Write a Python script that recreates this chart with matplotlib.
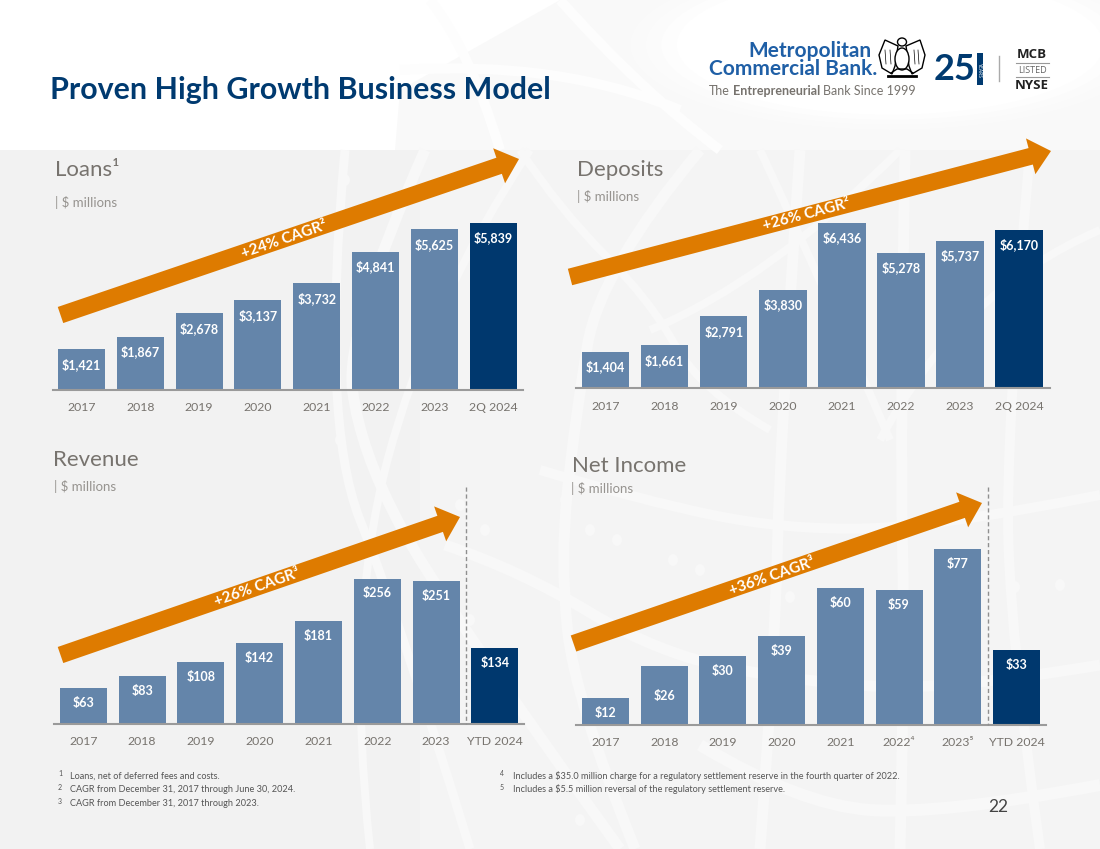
import matplotlib
matplotlib.use('Agg')
import matplotlib.pyplot as plt
import numpy as np
from matplotlib.patches import Rectangle, Ellipse, FancyArrow, PathPatch
from matplotlib.path import Path

plt.rcParams['font.family'] = ['Lato', 'Open Sans', 'DejaVu Sans']

W, H = 1100, 849

# data
years = ['2017', '2018', '2019', '2020', '2021', '2022', '2023']
loans = [1421, 1867, 2678, 3137, 3732, 4841, 5625, 5839]
deposits = [1404, 1661, 2791, 3830, 6436, 5278, 5737, 6170]
revenue = [63, 83, 108, 142, 181, 256, 251, 134]
net_income = [12, 26, 30, 39, 60, 59, 77, 33]
loans_cats = years + ['2Q 2024']
deposits_cats = years + ['2Q 2024']
revenue_cats = years + ['YTD 2024']
net_cats = years[:5] + ['2022⁴', '2023⁵', 'YTD 2024']
cagr_loans = '+24% CAGR²'
cagr_deposits = '+26% CAGR²'
cagr_revenue = '+26% CAGR³'
cagr_net = '+36% CAGR³'
notes_left = ['Loans, net of deferred fees and costs.',
              'CAGR from December 31, 2017 through June 30, 2024.',
              'CAGR from December 31, 2017 through 2023.']
notes_right = ['Includes a $35.0 million charge for a regulatory settlement reserve in the fourth quarter of 2022.',
               'Includes a $5.5 million reversal of the regulatory settlement reserve.']

BAR = '#6485AA'
DARK = '#00386E'
ORANGE = '#DE7B00'
NAVY = '#003A70'
GREY = '#77736E'
GREY2 = '#96938F'
BAND = '#F8F8F8'

fig = plt.figure(figsize=(W / 100, H / 100), dpi=100, facecolor='white')

# pixel axes for the background
bg = fig.add_axes([0, 0, 1, 1], zorder=0)
bg.set_xlim(0, W)
bg.set_ylim(H, 0)
bg.axis('off')
# overlay for arrows and text
ov = fig.add_axes([0, 0, 1, 1], zorder=5)
ov.set_xlim(0, W)
ov.set_ylim(H, 0)
ov.axis('off')
ov.patch.set_alpha(0)


def band(pts, lw=10, color=BAND, z=2):
    # smooth curve through midpoints
    pts = [np.array(p, dtype=float) for p in pts]
    verts = [pts[0]]
    codes = [Path.MOVETO]
    for i in range(1, len(pts) - 1):
        end = pts[i + 1] if i == len(pts) - 2 else (pts[i] + pts[i + 1]) / 2
        verts += [pts[i], end]
        codes += [Path.CURVE3, Path.CURVE3]
    bg.add_patch(PathPatch(Path(verts, codes), fc='none', ec=color, lw=lw * 0.72, zorder=z, capstyle='butt'))


# top area of the page, faint globe behind the logo
bg.fill([395, 1100, 1100, 560, 400], [150, 150, 0, 0, 90], fc='#F9F9F9', ec='none', zorder=1)
bg.add_patch(Rectangle((0, 150), W, H - 150, fc='#F2F2F2', ec='none', zorder=1))
bg.add_patch(Rectangle((420, 150), W - 420, H - 150, fc='#F4F4F4', ec='none', zorder=1.1))
for size, c in [(1.0, '#FAFAFA'), (0.94, '#FBFBFB'), (0.88, '#FDFDFD'), (0.82, 'white')]:
    bg.add_patch(Ellipse((890, 45), 520 * size, 170 * size, fc=c, ec='none', zorder=1.2))
band([(430, 0), (470, 50), (500, 150)], 10, color='#FDFDFD', z=1.15)
band([(560, 0), (640, 90), (720, 150)], 10, color='#FDFDFD', z=1.15)
band([(400, 70), (560, 60), (680, 110)], 10, color='#FDFDFD', z=1.15)

# globe bands
band([(345, 150), (320, 420), (400, 620), (470, 849)], 9)
band([(425, 150), (345, 330), (360, 450), (440, 600), (620, 849)], 11)
band([(530, 150), (430, 300), (345, 620), (370, 849)], 8)
band([(520, 150), (560, 210), (650, 300), (700, 390), (770, 430)], 8)
band([(540, 470), (640, 500), (785, 530), (940, 527), (1100, 495)], 10)
band([(445, 545), (520, 570), (660, 655), (810, 683), (950, 690), (1100, 665)], 11)
band([(700, 745), (800, 805), (940, 815), (1100, 785)], 12)
band([(700, 150), (600, 270), (575, 420), (560, 560), (575, 700), (635, 849)], 11)
band([(800, 150), (780, 440), (775, 650), (760, 849)], 11)
band([(905, 150), (900, 440), (905, 650), (900, 849)], 11)
band([(1030, 150), (1005, 440), (1012, 650), (1040, 849)], 10)
band([(900, 150), (770, 280), (650, 330)], 8)
band([(1100, 230), (960, 290), (880, 440)], 8)
band([(760, 150), (830, 300), (890, 440)], 8)
for cx, cy in [(345, 180), (460, 505), (485, 530), (470, 620), (565, 500), (590, 530), (617, 540),
               (673, 560), (700, 570), (730, 590), (790, 597), (1015, 587), (1060, 585), (580, 820), (340, 440)]:
    bg.add_patch(Ellipse((cx, cy), 10, 12, fc=BAND, ec='none', zorder=2.2))


def bar_chart(values, cats, first, pitch, bw, xl, xr, base, top_px, drops=None):
    # 200 px tall axes placed by the pixel position of the baseline
    ax_h = 200
    ax = fig.add_axes([xl / W, 1 - base / H, (xr - xl) / W, ax_h / H], zorder=3)
    ax.patch.set_alpha(0)
    x = np.arange(len(values))
    ax.set_xlim((xl - first) / pitch, (xr - first) / pitch)
    ax.set_ylim(0, max(values) * ax_h / top_px)
    colors = [BAR] * (len(values) - 1) + [DARK]
    ax.bar(x, values, width=bw / pitch, color=colors)
    for i, v in enumerate(values):
        drop = 15
        if drops and i in drops:
            drop = drops[i]
        ax.annotate('${:,}'.format(v), (i, v), xytext=(0, -drop * 0.72), textcoords='offset points',
                    ha='center', va='center', color='white', fontsize=9, fontweight='bold')
    ax.set_xticks(x)
    ax.set_xticklabels(cats, fontsize=8.8, color=GREY)
    ax.tick_params(axis='x', length=0, pad=9)
    ax.set_yticks([])
    for s in ['top', 'left', 'right']:
        ax.spines[s].set_visible(False)
    ax.spines['bottom'].set_color('#9A9A9A')
    ax.spines['bottom'].set_linewidth(1.5)
    return ax


bar_chart(loans, loans_cats, 81.5, 58.8, 47, 53, 523, 390, 167)
bar_chart(deposits, deposits_cats, 605.5, 59.1, 47.5, 576, 1050, 388, 165)
bar_chart(revenue, revenue_cats, 83.2, 58.8, 47, 54, 524, 723.5, 145)
bar_chart(net_income, net_cats, 605.5, 58.7, 47, 576, 1046, 725, 176, drops={1: 30})


def cagr_arrow(tail, tip, label, label_xy):
    dx, dy = tip[0] - tail[0], tip[1] - tail[1]
    ov.add_patch(FancyArrow(tail[0], tail[1], dx, dy, width=17, head_width=37, head_length=21,
                            length_includes_head=True, fc=ORANGE, ec='none', zorder=3))
    ang = np.degrees(np.arctan2(-dy, dx))
    ov.text(label_xy[0], label_xy[1], label, color='white', fontsize=11, fontweight='bold',
            ha='center', va='center', rotation=ang, rotation_mode='anchor', zorder=4)


cagr_arrow((60.5, 315), (519, 159), cagr_loans, (284, 240))
cagr_arrow((570, 277), (1051, 151), cagr_deposits, (806, 215))
cagr_arrow((60.5, 655), (460, 517), cagr_revenue, (257, 588))
cagr_arrow((573.5, 643.5), (982, 503), cagr_net, (772, 577))

# year to date separators
ov.plot([465.5, 465.5], [487, 724], color='#8F8F8F', lw=1, ls=(0, (3, 2)), zorder=2)
ov.plot([987.5, 987.5], [487, 725], color='#8F8F8F', lw=1, ls=(0, (3, 2)), zorder=2)

# headings
ov.text(50, 90, 'Proven High Growth Business Model', color=NAVY, fontsize=21.9, fontweight='bold',
        ha='left', va='center')
for x, y, s in [(55, 170, 'Loans¹'), (577, 170, 'Deposits'), (53, 460, 'Revenue'), (572, 466, 'Net Income')]:
    ov.text(x, y, s, color=GREY, fontsize=16, ha='left', va='center')
for x, y in [(55, 202), (577, 196), (54, 486), (571, 488)]:
    ov.text(x, y, '| $ millions', color=GREY2, fontsize=9.5, ha='left', va='center')

# footnotes
for i, s in enumerate(notes_left):
    y = 776 + i * 13.5
    ov.text(58, y - 2, str(i + 1), color='#555555', fontsize=5, ha='left', va='center')
    ov.text(70, y, s, color='#555555', fontsize=6.6, ha='left', va='center')
for i, s in enumerate(notes_right):
    y = 776 + i * 13.5
    ov.text(500, y - 2, str(i + 4), color='#555555', fontsize=5, ha='left', va='center')
    ov.text(513, y, s, color='#555555', fontsize=6.6, ha='left', va='center')
ov.text(998, 807, '22', color='#444444', fontsize=12.5, ha='center', va='center')

# logo
LOGO = '#1F5FA6'
ov.text(872, 51, 'Metropolitan', color=LOGO, fontsize=15, fontweight='bold', ha='right', va='center')
ov.text(877, 69, 'Commercial Bank.', color=LOGO, fontsize=15, fontweight='bold', ha='right', va='center')
# tagline is three runs, each starts where the last one ended
renderer = fig.canvas.get_renderer()
tag_x = 709
for s, weight in [('The ', 'normal'), ('Entrepreneurial ', 'bold'), ('Bank Since 1999', 'normal')]:
    t = ov.text(tag_x, 91, s.strip(), color=GREY, fontsize=9, fontweight=weight, ha='left', va='center')
    tag_x = t.get_window_extent(renderer).x1 + 3
# eagle
for xs, ys in [([898, 885, 879, 882, 892, 895], [46, 40, 55, 68, 74, 66]),
               ([906, 920, 925, 922, 912, 909], [46, 40, 55, 68, 74, 66])]:
    ov.fill(xs, ys, fc='white', ec='black', lw=1, zorder=3)
ov.add_patch(Ellipse((902, 42), 9, 8, fc='white', ec='black', lw=1, zorder=4))
ov.add_patch(Ellipse((902, 59), 14, 22, fc='white', ec='black', lw=1, zorder=4))
ov.plot([888, 916], [76, 76], color='black', lw=2, zorder=4)
ov.plot([891, 897, 907, 913], [73, 69, 69, 73], color='black', lw=1, zorder=4)
for x in [890, 885, 914, 918]:
    ov.plot([x, x + 1], [50, 64], color='black', lw=0.5, zorder=4)
# 25 years
ov.text(955, 69, '25', color=NAVY, fontsize=26, fontweight='bold', ha='center', va='center')
ov.add_patch(Rectangle((977, 53), 6, 32, fc=NAVY, ec='none', zorder=3))
ov.text(980, 69, 'YEARS', color='white', fontsize=3.5, rotation=270, ha='center', va='center', zorder=4)
ov.plot([999, 999], [56, 81], color='#AAAAAA', lw=1)
# listing badge
ov.text(1032, 54, 'MCB', color='#222222', fontsize=9.5, fontweight='bold', ha='center', va='center',
        family=['Open Sans', 'DejaVu Sans'])
ov.plot([1016, 1049], [63, 63], color='#999999', lw=0.8)
ov.text(1032, 70, 'LISTED', color='#666666', fontsize=6.5, ha='center', va='center',
        family=['Open Sans', 'DejaVu Sans'])
ov.plot([1016, 1049], [77, 77], color='#999999', lw=0.8)
ov.text(1032, 85, 'NYSE', color='#222222', fontsize=9.5, fontweight='bold', ha='center', va='center',
        family=['Open Sans', 'DejaVu Sans'])

fig.savefig('out.png', dpi=100)
